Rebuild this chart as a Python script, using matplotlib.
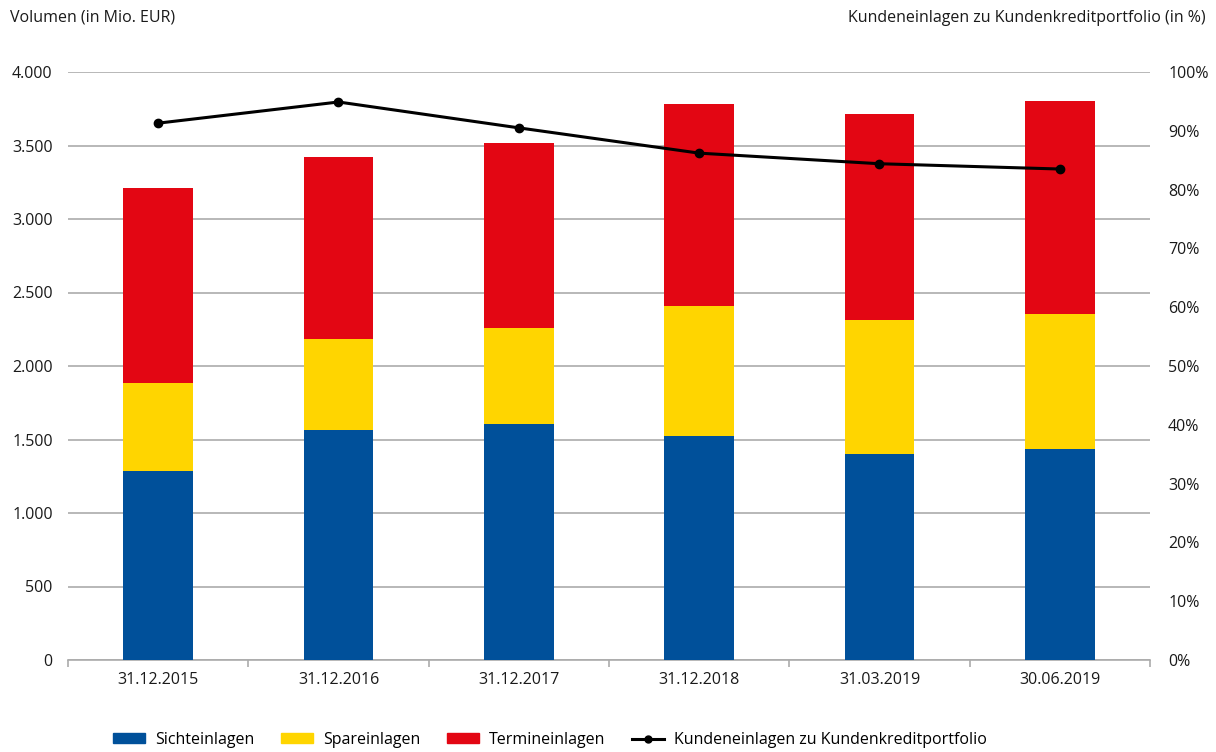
import matplotlib.pyplot as plt
import numpy as np
from matplotlib.patches import Patch
from matplotlib.lines import Line2D

# Daten
stichtage = ["31.12.2015", "31.12.2016", "31.12.2017", "31.12.2018", "31.03.2019", "30.06.2019"]
sichteinlagen = [1285, 1565, 1605, 1525, 1400, 1435]
spareinlagen = [600, 620, 655, 885, 915, 920]
termineinlagen = [1325, 1235, 1255, 1375, 1400, 1450]
quote = [91.3, 94.9, 90.5, 86.2, 84.4, 83.5]

BLAU = "#00509a"
GELB = "#ffd500"
ROT = "#e30613"

plt.rcParams['font.family'] = ['Open Sans', 'DejaVu Sans']
plt.rcParams['font.size'] = 11

fig = plt.figure(figsize=(12.16, 7.52), dpi=100)
ax = fig.add_axes([68/1216, 92/752, 1082/1216, 588/752])
ax2 = ax.twinx()

x = np.arange(len(stichtage))
b = 0.385
ax.bar(x, sichteinlagen, b, color=BLAU, zorder=3)
ax.bar(x, spareinlagen, b, bottom=sichteinlagen, color=GELB, zorder=3)
unten = np.array(sichteinlagen) + np.array(spareinlagen)
ax.bar(x, termineinlagen, b, bottom=unten, color=ROT, zorder=3)

ax.set_xlim(-0.5, len(stichtage) - 0.5)
ax.set_ylim(0, 4000)
ax.set_yticks(np.arange(0, 4001, 500))
ax.set_yticklabels([f"{v:,}".replace(",", ".") for v in range(0, 4001, 500)])
ax.yaxis.grid(True, color="#ababab", linewidth=1.2, zorder=0)
ax.set_axisbelow(True)
ax.tick_params(axis="y", length=0, pad=11, labelsize=11.5, colors="#1a1a1a")

ax.set_xticks(x)
ax.set_xticklabels(stichtage)
ax.set_xticks(np.arange(-0.5, len(stichtage)), minor=True)
ax.tick_params(axis="x", which="major", length=0, pad=9, labelsize=11.5, colors="#1a1a1a")
ax.tick_params(axis="x", which="minor", length=5, color="#ababab", width=1.2)

for s in ["top", "left", "right"]:
    ax.spines[s].set_visible(False)
    ax2.spines[s].set_visible(False)
ax.spines["bottom"].set_color("#ababab")
ax.spines["bottom"].set_linewidth(1.2)
ax2.spines["bottom"].set_visible(False)

ax2.plot(x, quote, color="black", linewidth=2.2, marker="o", markersize=6, zorder=5)
ax2.set_ylim(0, 100)
ax2.set_yticks(np.arange(0, 101, 10))
ax2.set_yticklabels([f"{v}%" for v in range(0, 101, 10)])
ax2.tick_params(axis="y", length=0, pad=13, labelsize=11.5, colors="#1a1a1a")

fig.text(10/1216, 1 - 18/752, "Volumen (in Mio. EUR)", ha="left", va="center", fontsize=11.5, color="#1a1a1a")
fig.text(1206/1216, 1 - 18/752, "Kundeneinlagen zu Kundenkreditportfolio (in %)", ha="right", va="center", fontsize=11.5, color="#1a1a1a")

handles = [
    Patch(color=BLAU, label="Sichteinlagen"),
    Patch(color=GELB, label="Spareinlagen"),
    Patch(color=ROT, label="Termineinlagen"),
    Line2D([], [], color="black", linewidth=2.2, marker="o", markersize=5, label="Kundeneinlagen zu Kundenkreditportfolio"),
]
fig.legend(handles=handles, loc="center", bbox_to_anchor=(550/1216, 1 - 740/752), ncol=4,
           frameon=False, fontsize=11.5, handlelength=2.0, handleheight=0.6, columnspacing=1.7,
           handletextpad=0.6)

fig.savefig("out.png", dpi=100)
